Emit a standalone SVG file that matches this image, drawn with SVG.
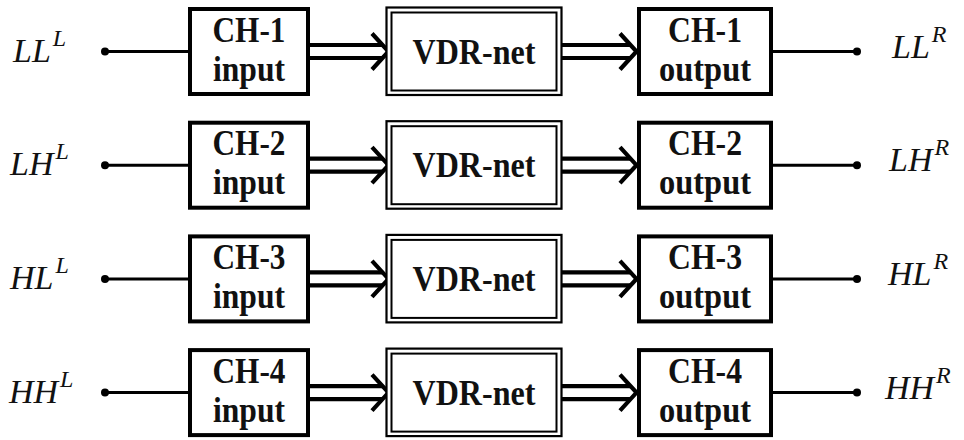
<svg xmlns="http://www.w3.org/2000/svg" width="964" height="440" viewBox="0 0 964 440">
<style>
.box{fill:#fff;stroke:#000;stroke-width:4}
.vo{fill:#fff;stroke:#000;stroke-width:2.2}
.vi{fill:none;stroke:#000;stroke-width:2}
.t{font-family:"Liberation Serif","Times New Roman",serif;font-weight:bold;font-size:35px;fill:#111;text-anchor:middle}
.lab{font-family:"Liberation Serif","Times New Roman",serif;font-style:italic;font-size:34px;fill:#111}
.sup{font-size:24px}
.ln{stroke:#000;stroke-width:3;fill:none}
.ar{stroke:#000;stroke-width:4.2;fill:none}
.dot{fill:#000}
</style>
<defs>
<g id="arrowShape">
<path class="ar" d="M0,-6.5 H72 M0,6.5 H72"/>
<path class="ar" d="M62,-18 L78.5,0 L62,18"/>
</g>
</defs>
<g id="connectors">
<g transform="translate(0,51.5)">
<line class="ln" x1="105" y1="0" x2="188" y2="0"/><circle class="dot" cx="105" cy="0" r="4"/>
<use href="#arrowShape" x="310"/><use href="#arrowShape" x="558"/>
<line class="ln" x1="773" y1="0" x2="857" y2="0"/><circle class="dot" cx="857" cy="0" r="4"/>
</g>
<g transform="translate(0,165.2)">
<line class="ln" x1="105" y1="0" x2="188" y2="0"/><circle class="dot" cx="105" cy="0" r="4"/>
<use href="#arrowShape" x="310"/><use href="#arrowShape" x="558"/>
<line class="ln" x1="773" y1="0" x2="857" y2="0"/><circle class="dot" cx="857" cy="0" r="4"/>
</g>
<g transform="translate(0,278.9)">
<line class="ln" x1="105" y1="0" x2="188" y2="0"/><circle class="dot" cx="105" cy="0" r="4"/>
<use href="#arrowShape" x="310"/><use href="#arrowShape" x="558"/>
<line class="ln" x1="773" y1="0" x2="857" y2="0"/><circle class="dot" cx="857" cy="0" r="4"/>
</g>
<g transform="translate(0,392.6)">
<line class="ln" x1="105" y1="0" x2="188" y2="0"/><circle class="dot" cx="105" cy="0" r="4"/>
<use href="#arrowShape" x="310"/><use href="#arrowShape" x="558"/>
<line class="ln" x1="773" y1="0" x2="857" y2="0"/><circle class="dot" cx="857" cy="0" r="4"/>
</g>
</g>
<!-- Row 1 -->
<g id="label-LLL" transform="translate(0,51.5)"><text class="lab" x="13" y="10">LL<tspan class="sup" dx="2" dy="-16">L</tspan></text></g>
<g id="ch1-input" transform="translate(0,51.5)"><rect class="box" x="190" y="-42.5" width="118" height="85"/><text class="t" x="249" y="-10" textLength="73" lengthAdjust="spacingAndGlyphs">CH-1</text><text class="t" x="249" y="29" textLength="72" lengthAdjust="spacingAndGlyphs">input</text></g>
<g id="vdr1" transform="translate(0,51.5)"><rect class="vo" x="386.5" y="-44" width="175" height="87.5"/><rect class="vi" x="391.5" y="-39" width="165" height="78"/><text class="t" x="474" y="12" textLength="123" lengthAdjust="spacingAndGlyphs">VDR-net</text></g>
<g id="ch1-output" transform="translate(0,51.5)"><rect class="box" x="639" y="-42.5" width="132" height="85"/><text class="t" x="705" y="-10" textLength="74" lengthAdjust="spacingAndGlyphs">CH-1</text><text class="t" x="705" y="29" textLength="92" lengthAdjust="spacingAndGlyphs">output</text></g>
<g id="label-LLR" transform="translate(0,51.5)"><text class="lab" x="892" y="6">LL<tspan class="sup" dx="2" dy="-16">R</tspan></text></g>
<!-- Row 2 -->
<g id="label-LHL" transform="translate(0,165.2)"><text class="lab" x="10" y="10">LH<tspan class="sup" dx="2" dy="-16">L</tspan></text></g>
<g id="ch2-input" transform="translate(0,165.2)"><rect class="box" x="190" y="-42.5" width="118" height="85"/><text class="t" x="249" y="-10" textLength="73" lengthAdjust="spacingAndGlyphs">CH-2</text><text class="t" x="249" y="29" textLength="72" lengthAdjust="spacingAndGlyphs">input</text></g>
<g id="vdr2" transform="translate(0,165.2)"><rect class="vo" x="386.5" y="-44" width="175" height="87.5"/><rect class="vi" x="391.5" y="-39" width="165" height="78"/><text class="t" x="474" y="12" textLength="123" lengthAdjust="spacingAndGlyphs">VDR-net</text></g>
<g id="ch2-output" transform="translate(0,165.2)"><rect class="box" x="639" y="-42.5" width="132" height="85"/><text class="t" x="705" y="-10" textLength="74" lengthAdjust="spacingAndGlyphs">CH-2</text><text class="t" x="705" y="29" textLength="92" lengthAdjust="spacingAndGlyphs">output</text></g>
<g id="label-LHR" transform="translate(0,165.2)"><text class="lab" x="889" y="6">LH<tspan class="sup" dx="2" dy="-16">R</tspan></text></g>
<!-- Row 3 -->
<g id="label-HLL" transform="translate(0,278.9)"><text class="lab" x="10" y="10">HL<tspan class="sup" dx="2" dy="-16">L</tspan></text></g>
<g id="ch3-input" transform="translate(0,278.9)"><rect class="box" x="190" y="-42.5" width="118" height="85"/><text class="t" x="249" y="-10" textLength="73" lengthAdjust="spacingAndGlyphs">CH-3</text><text class="t" x="249" y="29" textLength="72" lengthAdjust="spacingAndGlyphs">input</text></g>
<g id="vdr3" transform="translate(0,278.9)"><rect class="vo" x="386.5" y="-44" width="175" height="87.5"/><rect class="vi" x="391.5" y="-39" width="165" height="78"/><text class="t" x="474" y="12" textLength="123" lengthAdjust="spacingAndGlyphs">VDR-net</text></g>
<g id="ch3-output" transform="translate(0,278.9)"><rect class="box" x="639" y="-42.5" width="132" height="85"/><text class="t" x="705" y="-10" textLength="74" lengthAdjust="spacingAndGlyphs">CH-3</text><text class="t" x="705" y="29" textLength="92" lengthAdjust="spacingAndGlyphs">output</text></g>
<g id="label-HLR" transform="translate(0,278.9)"><text class="lab" x="888" y="6">HL<tspan class="sup" dx="2" dy="-16">R</tspan></text></g>
<!-- Row 4 -->
<g id="label-HHL" transform="translate(0,392.6)"><text class="lab" x="9" y="10">HH<tspan class="sup" dx="2" dy="-16">L</tspan></text></g>
<g id="ch4-input" transform="translate(0,392.6)"><rect class="box" x="190" y="-42.5" width="118" height="85"/><text class="t" x="249" y="-10" textLength="73" lengthAdjust="spacingAndGlyphs">CH-4</text><text class="t" x="249" y="29" textLength="72" lengthAdjust="spacingAndGlyphs">input</text></g>
<g id="vdr4" transform="translate(0,392.6)"><rect class="vo" x="386.5" y="-44" width="175" height="87.5"/><rect class="vi" x="391.5" y="-39" width="165" height="78"/><text class="t" x="474" y="12" textLength="123" lengthAdjust="spacingAndGlyphs">VDR-net</text></g>
<g id="ch4-output" transform="translate(0,392.6)"><rect class="box" x="639" y="-42.5" width="132" height="85"/><text class="t" x="705" y="-10" textLength="74" lengthAdjust="spacingAndGlyphs">CH-4</text><text class="t" x="705" y="29" textLength="92" lengthAdjust="spacingAndGlyphs">output</text></g>
<g id="label-HHR" transform="translate(0,392.6)"><text class="lab" x="885" y="6">HH<tspan class="sup" dx="2" dy="-16">R</tspan></text></g>
</svg>
